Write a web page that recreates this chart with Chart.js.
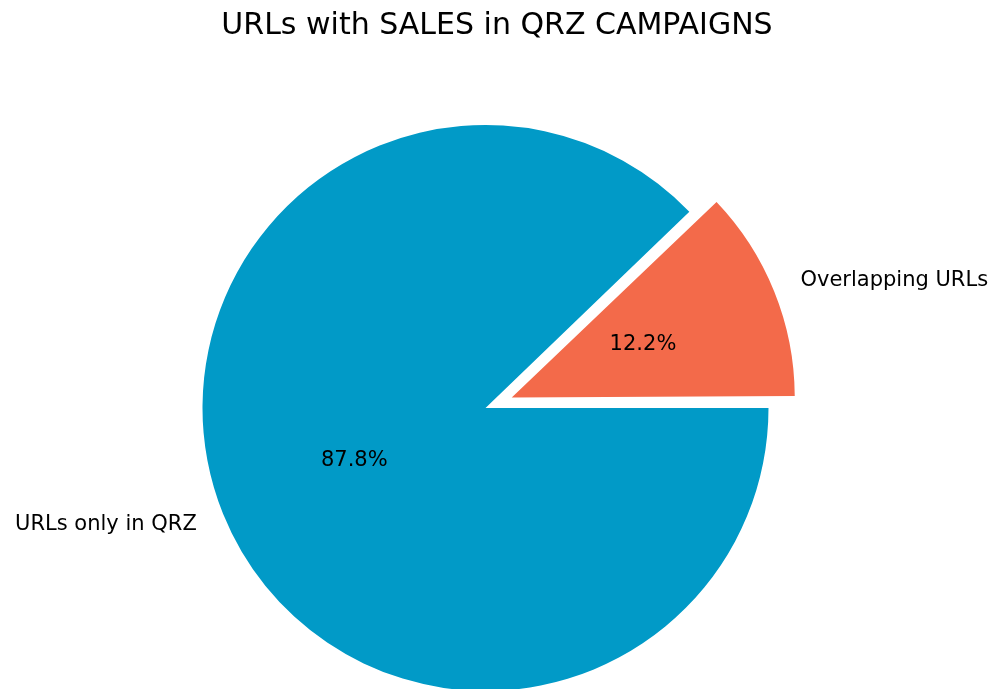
<!DOCTYPE html>
<html lang="en">
<head>
    <meta charset="UTF-8">
    <title>URLs with SALES in QRZ CAMPAIGNS</title>
    <script src="https://cdn.jsdelivr.net/npm/chart.js"></script>
    <style>
        html, body {
            margin: 0;
            padding: 0;
            background: #fff;
        }

        canvas {
            display: block;
        }
    </style>
</head>
<body>
    <canvas id="pieChart" width="997" height="689"></canvas>

    <script>
        const chartTitle = 'URLs with SALES in QRZ CAMPAIGNS';
        const labels = ['Overlapping URLs', 'URLs only in QRZ'];
        const shares = [12.2, 87.8];
        const colors = ['#f36a4a', '#019ac7'];
        const explode = [0.1, 0];

        const radius = 283;
        const fontFamily = '"DejaVu Sans", sans-serif';

        const total = shares.reduce((a, b) => a + b, 0);
        // matplotlib starts at 3 o'clock and goes counter-clockwise,
        // so the first slice ends at 3 o'clock going clockwise here
        const rotation = 90 - shares[0] / total * 360;

        // chart.js moves an offset arc by offset/4 and also grows it by offset/4*fix
        const circ = shares.map(v => v / total * Math.PI * 2);
        const fix = circ.map(c => 1 - Math.sin(Math.min(Math.PI, c)));
        const shift = explode.map(e => e * radius);
        const offsets = shift.map(d => 4 * d);

        const pieText = {
            id: 'pieText',
            beforeDatasetsDraw(chart) {
                const arcs = chart.getDatasetMeta(0).data;
                arcs.forEach((arc, i) => {
                    arc.outerRadius = radius - shift[i] * fix[i];
                });
            },
            afterDatasetsDraw(chart) {
                const ctx = chart.ctx;
                const arcs = chart.getDatasetMeta(0).data;
                ctx.save();
                ctx.fillStyle = '#000';
                ctx.textBaseline = 'middle';

                ctx.font = '30px ' + fontFamily;
                ctx.textAlign = 'center';
                ctx.fillText(chartTitle, 497, 26);

                ctx.font = '21px ' + fontFamily;
                arcs.forEach((arc, i) => {
                    const mid = (arc.startAngle + arc.endAngle) / 2;
                    const cx = arc.x + Math.cos(mid) * shift[i];
                    const cy = arc.y + Math.sin(mid) * shift[i];

                    ctx.textAlign = Math.cos(mid) > 0 ? 'left' : 'right';
                    ctx.fillText(labels[i], cx + Math.cos(mid) * radius * 1.1, cy + Math.sin(mid) * radius * 1.1);

                    ctx.textAlign = 'center';
                    const pct = (shares[i] / total * 100).toFixed(1) + '%';
                    ctx.fillText(pct, cx + Math.cos(mid) * radius * 0.5, cy + Math.sin(mid) * radius * 0.5);
                });
                ctx.restore();
            }
        };

        new Chart(document.getElementById('pieChart'), {
            type: 'pie',
            data: {
                labels: labels,
                datasets: [{
                    data: shares,
                    backgroundColor: colors,
                    borderWidth: 0,
                    offset: offsets,
                    hoverOffset: 0,
                    clip: false
                }]
            },
            options: {
                responsive: false,
                animation: false,
                events: [],
                rotation: rotation,
                radius: radius,
                layout: {
                    padding: { top: 127, bottom: 0, left: 0, right: 26 }
                },
                plugins: {
                    legend: { display: false },
                    tooltip: { enabled: false },
                    title: { display: false }
                }
            },
            plugins: [pieText]
        });
    </script>
</body>
</html>
